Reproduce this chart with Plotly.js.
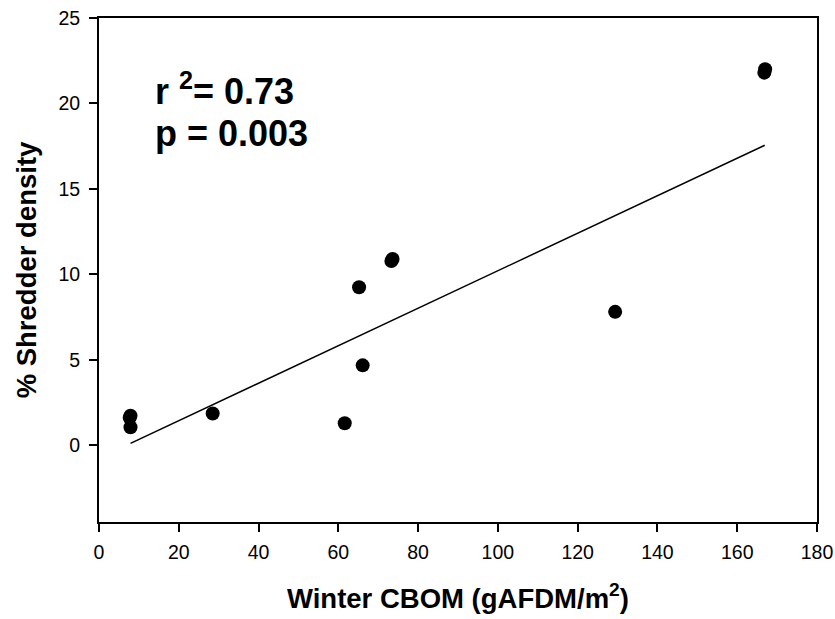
<!DOCTYPE html>
<html>
<head>
<meta charset="utf-8">
<script src="https://cdn.plot.ly/plotly-3.0.1.min.js"></script>
<style>html,body{margin:0;padding:0;background:#fff;}#chart{width:835px;height:619px;}</style>
</head>
<body>
<div id="chart"></div>
<script>
// Observed points (Winter CBOM vs % shredder density)
const cbom = [7.7, 7.9, 7.9, 28.5, 61.6, 66.1, 65.2, 73.3, 73.6, 129.4, 166.8, 167.0];
const shredder = [1.6, 1.72, 1.05, 1.85, 1.28, 4.67, 9.24, 10.78, 10.9, 7.8, 21.8, 22.0];
// Fitted regression line end points
const fitX = [7.9, 166.9];
const fitY = [0.1, 17.55];
const xTicks = [0, 20, 40, 60, 80, 100, 120, 140, 160, 180];
const yTicks = [0, 5, 10, 15, 20, 25];

const font = "Liberation Sans, Arial, Helvetica, sans-serif";

const traces = [
  {x: fitX, y: fitY, type: 'scatter', mode: 'lines', line: {color: '#000', width: 1.5}, hoverinfo: 'skip', showlegend: false},
  {x: cbom, y: shredder, type: 'scatter', mode: 'markers', marker: {color: '#000', size: 14}, showlegend: false}
];

const axisCommon = {
  showgrid: false, zeroline: false, showline: true, linecolor: '#000', linewidth: 2,
  mirror: true, ticks: 'outside', ticklen: 8, tickwidth: 2, tickcolor: '#000',
  tickfont: {family: font, size: 19.5, color: '#000'}
};

const layout = {
  width: 835, height: 619,
  margin: {l: 99, r: 18, t: 18, b: 97},
  paper_bgcolor: '#fff', plot_bgcolor: '#fff',
  xaxis: Object.assign({}, axisCommon, {
    range: [0, 180], tickvals: xTicks, ticktext: xTicks.map(String), ticklabelstandoff: 4,
    title: {text: 'Winter CBOM (gAFDM/m<sup>2</sup>)', font: {family: font, size: 27.5, color: '#000', weight: 'bold'}, standoff: 26}
  }),
  yaxis: Object.assign({}, axisCommon, {
    range: [-4.5, 25], tickvals: yTicks, ticktext: yTicks.map(String), ticklabelstandoff: 5,
    title: {text: '% Shredder density', font: {family: font, size: 27.5, color: '#000', weight: 'bold'}, standoff: 14}
  }),
  annotations: [
    {x: 13.5, y: 20.87, xref: 'x', yref: 'y', xanchor: 'left', yanchor: 'middle', showarrow: false,
     text: '<b>r <sup>2</sup>= 0.73</b>', font: {family: font, size: 36, color: '#000'}},
    {x: 13.5, y: 18.23, xref: 'x', yref: 'y', xanchor: 'left', yanchor: 'middle', showarrow: false,
     text: '<b>p = 0.003</b>', font: {family: font, size: 36, color: '#000'}}
  ]
};

Plotly.newPlot('chart', traces, layout, {staticPlot: true, displayModeBar: false});
</script>
</body>
</html>
